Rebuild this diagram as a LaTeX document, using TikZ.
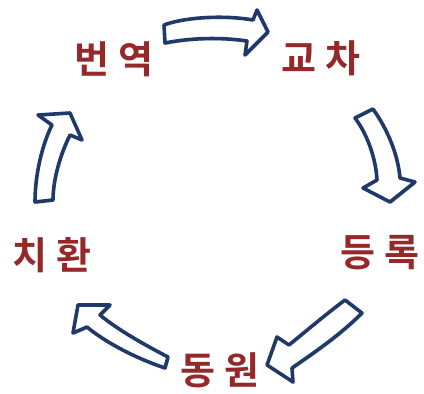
\documentclass[tikz,border=0pt]{standalone}
\usepackage{fontspec}
\newfontfamily\kr{Noto Sans CJK KR}[BoldFont={Noto Sans CJK KR Bold}]
\usetikzlibrary{shadows}
\definecolor{lbl}{RGB}{150,40,42}
\definecolor{navy}{RGB}{31,58,104}
\begin{document}
\begin{tikzpicture}[x=1pt,y=-1pt,
  lab/.style={text=lbl,font=\kr\bfseries\fontsize{38}{40}\selectfont,inner sep=0pt},
  blockarrow/.style={draw=navy,fill=white,line width=3.6pt,line join=round,
    drop shadow={opacity=0.25,shadow xshift=1.5pt,shadow yshift=-2pt}}]
\useasboundingbox (0,0) rectangle (424,394);
% labels
\node[lab] (by) at (114,59) {번\hspace{10pt}역};
\node[lab] (gc) at (321,58) {교\hspace{10pt}차};
\node[lab] (dr) at (380,253) {등\hspace{10pt}록};
\node[lab] (dw) at (220,370) {동\hspace{10pt}원};
\node[lab] (ch) at (52,255) {치\hspace{10pt}환};
% arrow 1: top, pointing right
\path[blockarrow] (164,25) .. controls (185,17) and (225,15) .. (253,20)
  -- (257,10) -- (268,32) -- (245,55) -- (247,41)
  .. controls (220,37) and (190,38) .. (165,43) -- cycle;
% arrow 2: right, pointing down
\path[blockarrow] (373,109) .. controls (388,130) and (398,155) .. (400,178)
  -- (415,182) -- (390,202) -- (363,188) -- (377,180)
  .. controls (376,160) and (368,135) .. (355,118) -- cycle;
% arrow 3: bottom right, pointing lower-left
\path[blockarrow] (345,300) .. controls (325,315) and (305,332) .. (289,345)
  -- (277,337) -- (267,365) -- (293,382) -- (292,368)
  .. controls (315,352) and (340,335) .. (362,313) -- cycle;
% arrow 4: bottom left, pointing upper-left
\path[blockarrow] (168,357) .. controls (145,345) and (118,330) .. (100,315)
  -- (110,305) -- (78,305) -- (73,333) -- (87,327)
  .. controls (105,342) and (135,358) .. (165,368) -- cycle;
% arrow 5: left, pointing up
\path[blockarrow] (35,202) .. controls (35,175) and (42,145) .. (52,125)
  -- (38,115) -- (70,113) -- (82,140) -- (70,135)
  .. controls (60,155) and (53,180) .. (53,200) -- cycle;
\end{tikzpicture}
\end{document}
